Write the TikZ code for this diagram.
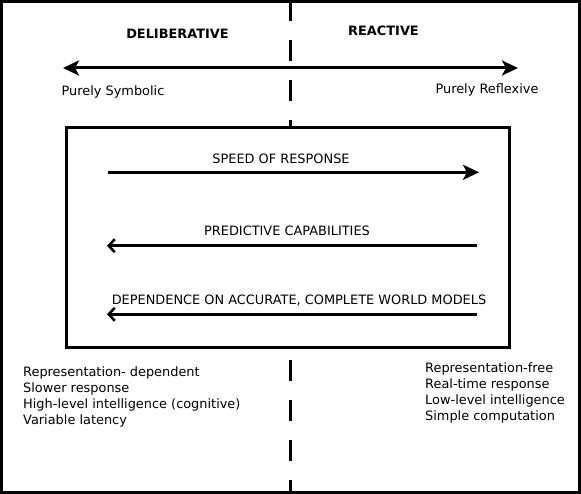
\documentclass[tikz,border=0pt]{standalone}
\usepackage{fontspec}
\setmainfont{DejaVu Sans}
\usepackage{tikz}
\usetikzlibrary{arrows.meta}

\tikzset{
  label/.style={inner sep=0pt, font=\fontsize{12.9}{16}\selectfont},
  heading/.style={label, font=\fontsize{12.9}{16}\selectfont\bfseries},
  fat/.style={line width=3pt, -{Stealth[length=16pt,width=15pt,inset=4pt]}},
  twoway/.style={line width=3pt, {Stealth[length=16pt,width=15pt,inset=4pt]}-{Stealth[length=16pt,width=15pt,inset=4pt]}},
  barb/.style={line width=2.6pt, -{Straight Barb[length=6pt,width=13pt]}},
}

\begin{document}
\begin{tikzpicture}[x=1pt,y=-1pt]
  \useasboundingbox (0,0) rectangle (581,494);
  % frame and divider
  \draw[line width=3pt] (1.5,1.5) rectangle (579.5,492.5);
  \draw[line width=3pt, dash pattern=on 21pt off 19pt] (290,0) -- (290,494);

  % top scale
  \node[heading] (delib) at (177.5,34) {DELIBERATIVE};
  \node[heading] (react) at (383.5,30.5) {REACTIVE};
  \coordinate (symb) at (63,68);
  \coordinate (refl) at (518,68);
  \draw[twoway] (symb) -- (refl);
  \node[label] (symbtxt) at (113,92) {Purely Symbolic};
  \node[label] (refltxt) at (487,90) {Purely Reflexive};

  % properties box
  \draw[line width=3pt, fill=white] (66.5,127.5) rectangle (509.5,347);
  \coordinate (sL) at (108,172.3);  \coordinate (sR) at (479,172.3);
  \coordinate (pL) at (107,245.7);  \coordinate (pR) at (477,245.7);
  \coordinate (dL) at (107,314.3);  \coordinate (dR) at (477,314.3);
  \draw[fat] (sL) -- (sR);
  \draw[barb] (pR) -- (pL);
  \draw[barb] (dR) -- (dL);
  \node[label] (speed) at (281,159) {SPEED OF RESPONSE};
  \node[label] (pred) at (287,230.7) {PREDICTIVE CAPABILITIES};
  \node[label] (dep) at (299,300.7) {DEPENDENCE ON ACCURATE, COMPLETE WORLD MODELS};

  % lists
  \node[label, align=left, anchor=west] (left) at (23,397)
    {Representation- dependent\\Slower response\\High-level intelligence (cognitive)\\Variable latency};
  \node[label, align=left, anchor=west] (right) at (425,393)
    {Representation-free\\Real-time response\\Low-level intelligence\\Simple computation};
\end{tikzpicture}
\end{document}
